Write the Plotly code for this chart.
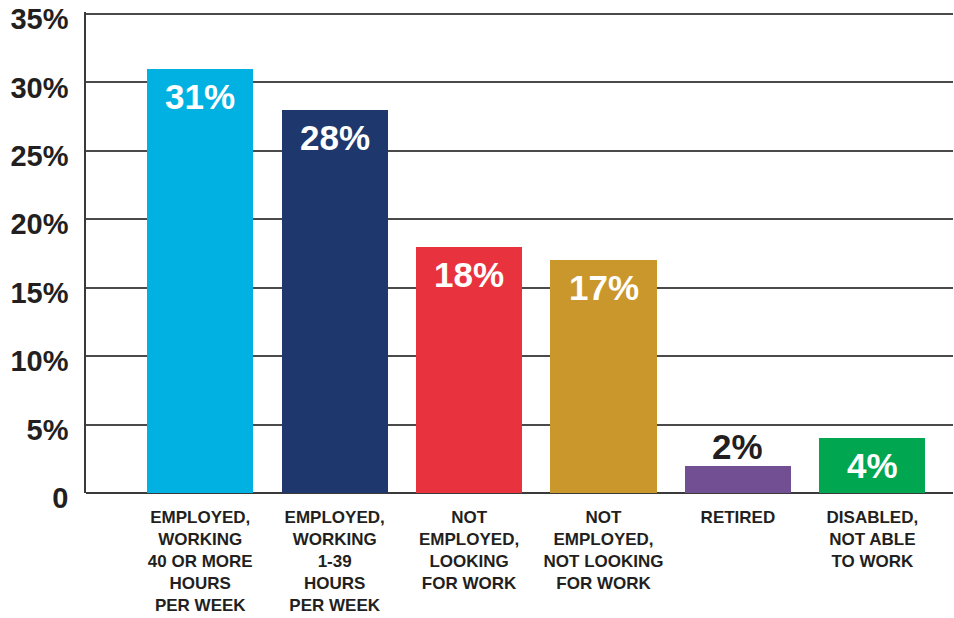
import plotly.graph_objects as go

# Employment status of respondents (share of total, %)
categories = [
    "EMPLOYED,<br>WORKING<br>40 OR MORE<br>HOURS<br>PER WEEK",
    "EMPLOYED,<br>WORKING<br>1-39<br>HOURS<br>PER WEEK",
    "NOT<br>EMPLOYED,<br>LOOKING<br>FOR WORK",
    "NOT<br>EMPLOYED,<br>NOT LOOKING<br>FOR WORK",
    "RETIRED",
    "DISABLED,<br>NOT ABLE<br>TO WORK",
]
values = [31, 28, 18, 17, 2, 4]
colors = ["#00b1e2", "#1e376c", "#e8333f", "#c9972b", "#714f92", "#00a650"]
label_inside = [True, True, True, True, False, True]

y_tick_vals = [0, 5, 10, 15, 20, 25, 30, 35]
y_tick_text = ["0", "5%", "10%", "15%", "20%", "25%", "30%", "35%"]

FONT = "Liberation Sans, Arial, sans-serif"

x_idx = list(range(len(categories)))

fig = go.Figure(
    go.Bar(
        x=x_idx,
        y=values,
        marker=dict(color=colors, line=dict(width=0)),
        width=0.79,
        hoverinfo="skip",
    )
)

# Value labels: white inside the top of tall bars, dark above short ones
for i, (v, inside) in enumerate(zip(values, label_inside)):
    fig.add_annotation(
        x=i,
        y=v,
        text=f"<b>{v}%</b>",
        showarrow=False,
        yanchor="top" if inside else "bottom",
        yshift=-6 if inside else -2,
        font=dict(family=FONT, size=35, color="white" if inside else "#231f20"),
    )

fig.update_layout(
    width=954,
    height=618,
    margin=dict(l=86, r=1, t=12, b=125),
    paper_bgcolor="white",
    plot_bgcolor="white",
    showlegend=False,
    bargap=0,
)

fig.update_xaxes(
    range=[-0.85, 5.6],
    tickmode="array",
    tickvals=x_idx,
    ticktext=[f"<b>{c}</b>" for c in categories],
    tickfont=dict(family=FONT, size=17, color="#231f20"),
    ticks="",
    ticklabelstandoff=12,
    showgrid=False,
    showline=False,
    zeroline=False,
    fixedrange=True,
)

fig.update_yaxes(
    range=[0, 35.15],
    tickmode="array",
    tickvals=y_tick_vals,
    ticktext=[f"<b>{t}</b>" for t in y_tick_text],
    tickfont=dict(family=FONT, size=29, color="#231f20"),
    ticks="",
    ticklabelstandoff=10,
    ticklabelshift=5,
    showgrid=True,
    gridcolor="#4a4a4a",
    gridwidth=1.5,
    showline=True,
    linecolor="#3a3a3a",
    linewidth=1.5,
    zeroline=True,
    zerolinecolor="#3a3a3a",
    zerolinewidth=1.5,
    fixedrange=True,
)

fig.write_html("out.html")
